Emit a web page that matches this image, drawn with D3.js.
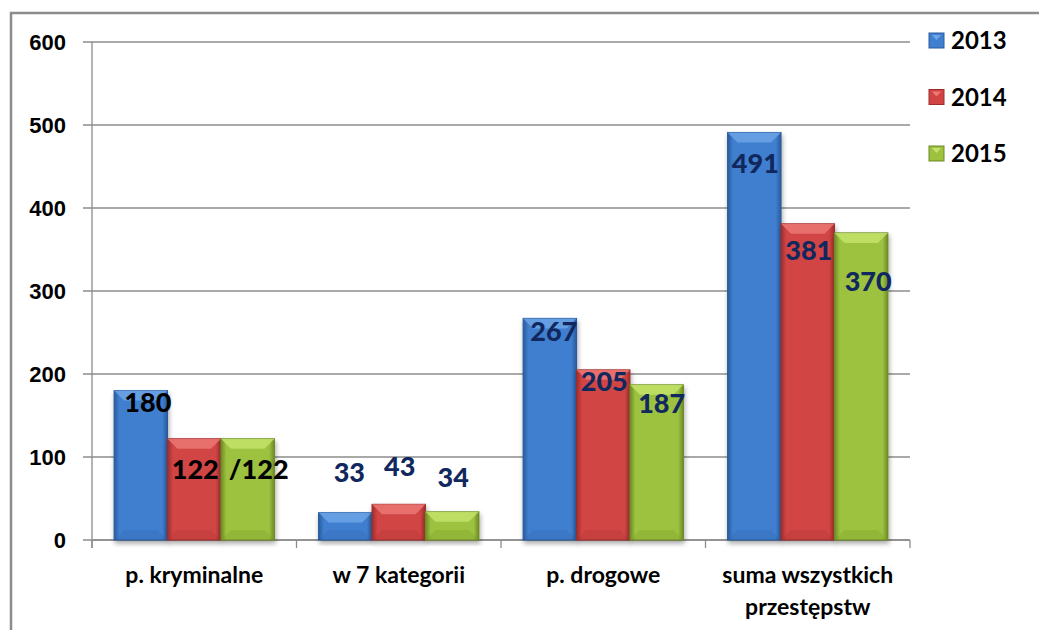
<!DOCTYPE html>
<meta charset="utf-8">
<style>
body { margin: 0; background: #fff; }
svg { font-family: Lato, "Open Sans", sans-serif; }
.grid line { stroke: #8c8c8c; stroke-width: 1.3; }
.axis path, .axis line { stroke: #8c8c8c; stroke-width: 1.3; }
.axis text { font-weight: bold; fill: #000; }
.val { font-weight: 900; font-size: 27px; text-anchor: middle; }
</style>
<svg width="1039" height="630"></svg>
<script src="https://d3js.org/d3.v7.min.js"></script>
<script>

var categories = [["p. kryminalne"], ["w 7 kategorii"], ["p. drogowe"], ["suma wszystkich", "przestępstw"]];
var years = ["2013", "2014", "2015"];
var v2013 = [180, 33, 267, 491];
var v2014 = [122, 43, 205, 381];
var v2015 = [122, 34, 187, 370];
var yTicks = [0, 100, 200, 300, 400, 500, 600];
// label text as shown on the chart
var labels2015 = ["/122", "34", "187", "370"];

var series = [v2013, v2014, v2015];
var colors = [
  {main: "#3f7fcf", dark: "#2a5a9c", light: "#6fa6e6"},
  {main: "#d24444", dark: "#9c2e2e", light: "#ec7b78"},
  {main: "#9cc23f", dark: "#6d8a25", light: "#c6e36e"}
];
// label nudges [dx, dy] in px, relative to bar top
var nudge = [
  [[7, 12], [1, 31], [11, 31]],
  [[4, -40], [1, -38], [1, -34]],
  [[4, 13], [1, 12], [5, 19]],
  [[1, 31], [1, 27], [7, 49]]
];

var svg = d3.select("svg");
var defs = svg.append("defs");

colors.forEach(function(c, i) {
  var g = defs.append("linearGradient").attr("id", "g" + i)
      .attr("x1", 0).attr("x2", 1).attr("y1", 0).attr("y2", 0);
  g.append("stop").attr("offset", "0%").attr("stop-color", c.dark);
  g.append("stop").attr("offset", "10%").attr("stop-color", c.main);
  g.append("stop").attr("offset", "90%").attr("stop-color", c.main);
  g.append("stop").attr("offset", "100%").attr("stop-color", c.dark);
});
var sh = defs.append("filter").attr("id", "shadow").attr("x", "-20%").attr("y", "-20%").attr("width", "140%").attr("height", "140%");
sh.append("feGaussianBlur").attr("in", "SourceAlpha").attr("stdDeviation", 2.5);
sh.append("feOffset").attr("dx", 1).attr("dy", 3).attr("result", "b");
sh.append("feComponentTransfer").append("feFuncA").attr("type", "linear").attr("slope", 0.35);
var m = sh.append("feMerge");
m.append("feMergeNode");
m.append("feMergeNode").attr("in", "SourceGraphic");

// outer frame
svg.append("path").attr("d", "M11,630V13H1039")
    .attr("fill", "none").attr("stroke", "#8c8c8c").attr("stroke-width", 2.5);

var pLeft = 92, pRight = 910, pTop = 42, pBottom = 540;

var y = d3.scaleLinear().domain([0, 600]).range([pBottom, pTop]);
var x0 = d3.scaleBand().domain(d3.range(categories.length)).range([pLeft, pRight]);
var gap = x0.bandwidth() * 0.108;
var x1 = d3.scaleBand().domain(d3.range(years.length)).range([gap, x0.bandwidth() - gap]);

svg.append("g").attr("class", "grid")
  .selectAll("line").data(yTicks).enter().append("line")
    .attr("x1", pLeft - 9).attr("x2", pRight)
    .attr("y1", function(d) { return y(d); }).attr("y2", function(d) { return y(d); });

var ya = svg.append("g").attr("class", "axis")
    .attr("transform", "translate(" + pLeft + ",0)")
    .call(d3.axisLeft(y).tickValues(yTicks).tickSize(0).tickPadding(26));
ya.select(".domain").attr("d", "M0," + pTop + "V" + (pBottom + 8));
ya.selectAll("text").style("font-size", "22px");

var xa = svg.append("g").attr("class", "axis")
    .attr("transform", "translate(0," + pBottom + ")");
xa.append("line").attr("x1", pLeft).attr("x2", pRight).attr("y1", 0).attr("y2", 0);
xa.selectAll(".tk").data(d3.range(categories.length + 1)).enter().append("line")
    .attr("x1", function(d) { return pLeft + d * x0.bandwidth(); })
    .attr("x2", function(d) { return pLeft + d * x0.bandwidth(); })
    .attr("y1", 0).attr("y2", 8);

categories.forEach(function(lines, i) {
  var t = xa.append("text").attr("text-anchor", "middle")
      .attr("x", x0(i) + x0.bandwidth() / 2)
      .attr("y", 43)
      .style("font-size", "23px");
  lines.forEach(function(s, k) {
    t.append("tspan").attr("x", x0(i) + x0.bandwidth() / 2).attr("dy", k ? 32 : 0).text(s);
  });
});

// bars
var bw = x1.bandwidth();
series.forEach(function(vals, s) {
  var c = colors[s];
  var g = svg.append("g");
  vals.forEach(function(v, i) {
    var bx = x0(i) + x1(s), by = y(v), bh = pBottom - y(v);
    var b = g.append("g").attr("filter", "url(#shadow)");
    b.append("rect").attr("x", bx).attr("y", by).attr("width", bw).attr("height", bh)
        .attr("fill", "url(#g" + s + ")").attr("stroke", c.dark).attr("stroke-width", 1);
    var bev = Math.min(10, bh / 2);
    b.append("path")
        .attr("d", "M" + bx + "," + by + "H" + (bx + bw) + "L" + (bx + bw - bev) + "," + (by + bev) + "H" + (bx + bev) + "Z")
        .attr("fill", c.light).attr("opacity", 0.8);
    b.append("path")
        .attr("d", "M" + bx + "," + (by + bh) + "H" + (bx + bw) + "L" + (bx + bw - bev) + "," + (by + bh - bev) + "H" + (bx + bev) + "Z")
        .attr("fill", c.dark).attr("opacity", 0.2);
  });
});

// value labels
series.forEach(function(vals, s) {
  vals.forEach(function(v, i) {
    var txt = s === 2 ? labels2015[i] : String(v);
    svg.append("text").attr("class", "val")
        .attr("x", x0(i) + x1(s) + bw / 2 + nudge[i][s][0])
        .attr("y", y(v) + nudge[i][s][1])
        .attr("dy", "0.35em")
        .attr("fill", i === 0 ? "#000" : "#10285e")
        .text(txt);
  });
});

// legend
var lg = svg.append("g");
years.forEach(function(yr, i) {
  var ly = 41 + i * 56.5;
  var c = colors[i];
  lg.append("rect").attr("x", 929).attr("y", ly - 8).attr("width", 15).attr("height", 15)
      .attr("fill", c.main).attr("stroke", c.dark);
  lg.append("path").attr("d", "M932," + (ly - 6) + "h9l-4.5,5z").attr("fill", c.light);
  lg.append("text").attr("x", 951).attr("y", ly).attr("dy", "0.35em")
      .style("font-size", "24px").style("font-weight", "bold").text(yr);
});

</script>
